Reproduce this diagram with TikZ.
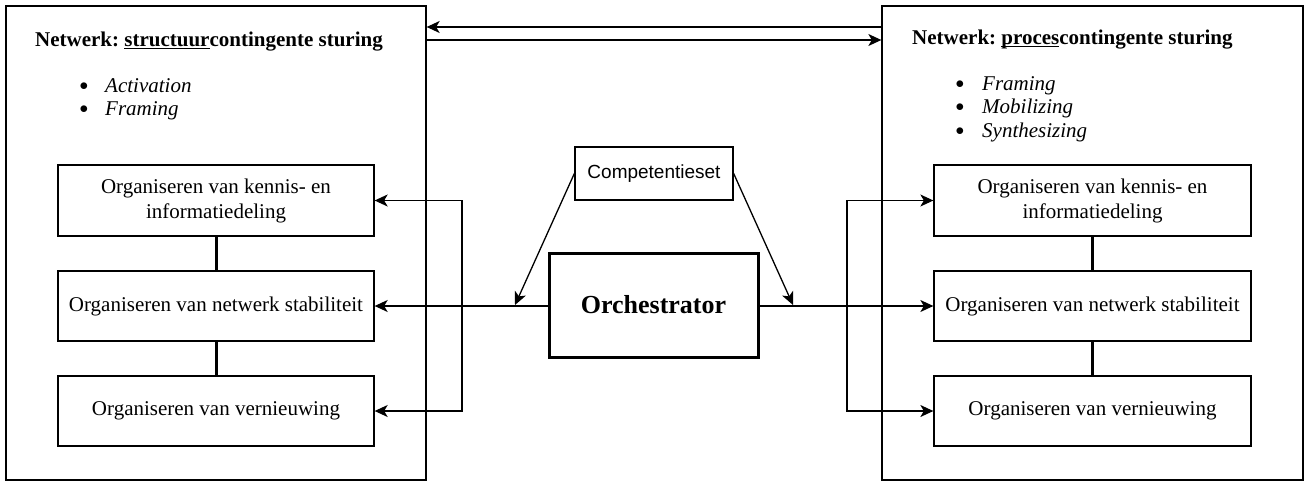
\documentclass[tikz,border=0pt]{standalone}
\usepackage{fontspec}
\setmainfont{Liberation Serif}
\newfontfamily\helv{Liberation Sans}
\usetikzlibrary{arrows.meta}
\frenchspacing
\newcommand\myul[1]{\setbox0\hbox{#1}\rlap{\rule[-2.6pt]{\wd0}{0.9pt}}\box0}
\begin{document}
\begin{tikzpicture}[x=1pt,y=1pt,
  thinline/.style={line width=1.3pt},
  arr/.style={thinline,-{Stealth[length=13pt,width=12pt,inset=3.5pt]}},
  bigbox/.style={draw,thinline,minimum height=474pt,inner sep=0pt},
  taskbox/.style={draw,thinline,minimum width=316pt,minimum height=70pt,inner sep=0pt,align=center,font=\fontsize{21}{25}\selectfont},
  label/.style={anchor=base west,inner sep=0pt,font=\fontsize{21}{25}\selectfont\frenchspacing},
  item/.style={anchor=base west,inner sep=0pt,font=\fontsize{21}{25}\selectfont\itshape},
  bul/.style={anchor=base,inner sep=0pt,font=\fontsize{16}{20}\selectfont},
  link/.style={line width=3pt}
]
\useasboundingbox (0,0) rectangle (1311,-482);
\fill[white] (0,0) rectangle (1311,-482);

% big boxes
\node[bigbox,minimum width=420pt] (lbig) at (216,-243) {};
\node[bigbox,minimum width=421pt] (rbig) at (1092.5,-243) {};

% titles
\node[label] (ltitle) at (35,-46.5) {\bfseries\frenchspacing Netwerk: \myul{structuur}contingente sturing};
\node[label] (rtitle) at (912,-44) {\bfseries\frenchspacing Netwerk: \myul{proces}contingente sturing};

% bullets left
\node[bul] (lb1) at (84,-90.5) {$\bullet$};
\node[item] (li1) at (105,-92.5) {Activation};
\node[bul] (lb2) at (84,-113.5) {$\bullet$};
\node[item] (li2) at (105,-115.5) {Framing};

% bullets right
\node[bul] (rb1) at (960,-88) {$\bullet$};
\node[item] (ri1) at (982,-90) {Framing};
\node[bul] (rb2) at (960,-111.5) {$\bullet$};
\node[item] (ri2) at (982,-113.5) {Mobilizing};
\node[bul] (rb3) at (960,-135) {$\bullet$};
\node[item] (ri3) at (982,-137) {Synthesizing};

% task boxes
\node[taskbox,minimum height=71pt] (L1) at (216,-200.5) {Organiseren van kennis- en\\informatiedeling};
\node[taskbox] (L2) at (216,-306) {Organiseren van netwerk stabiliteit};
\node[taskbox] (L3) at (216,-411) {Organiseren van vernieuwing};
\node[taskbox,minimum width=317pt,minimum height=71pt] (R1) at (1092.5,-200.5) {Organiseren van kennis- en\\informatiedeling};
\node[taskbox,minimum width=317pt] (R2) at (1092.5,-306) {Organiseren van netwerk stabiliteit};
\node[taskbox,minimum width=317pt] (R3) at (1092.5,-411) {Organiseren van vernieuwing};

\draw[link] (L1) -- (L2);
\draw[link] (L2) -- (L3);
\draw[link] (R1) -- (R2);
\draw[link] (R2) -- (R3);

% center
\node[draw,line width=3pt,minimum width=209pt,minimum height=104pt,inner sep=0pt,font=\fontsize{26}{30}\selectfont\bfseries] (orch) at (653.5,-305) {Orchestrator};
\node[draw,thinline,minimum width=158pt,minimum height=53pt,inner sep=0pt,font=\fontsize{19}{22}\selectfont\helv] (comp) at (654,-173.5) {Competentieset};

% top arrows
\coordinate (ta) at (654,-27);
\coordinate (tb) at (654,-40);
\draw[arr] (rbig.west |- ta) -- (lbig.east |- ta);
\draw[arr] (lbig.east |- tb) -- (rbig.west |- tb);

% left bracket
\coordinate (bl) at (462,-306);
\draw[arr] (orch.west |- bl) -- (L2.east);
\draw[arr] (bl) |- (L1.east);
\draw[arr] (bl) |- (L3.east);

% right bracket
\coordinate (br) at (847,-306);
\draw[arr] (orch.east |- br) -- (R2.west);
\draw[arr] (br) |- (R1.west);
\draw[arr] (br) |- (R3.west);

% competentieset arrows
\coordinate (cl) at (515,-305);
\coordinate (cr) at (793,-305);
\draw[arr] (comp.west) -- (cl);
\draw[arr] (comp.east) -- (cr);
\end{tikzpicture}
\end{document}
